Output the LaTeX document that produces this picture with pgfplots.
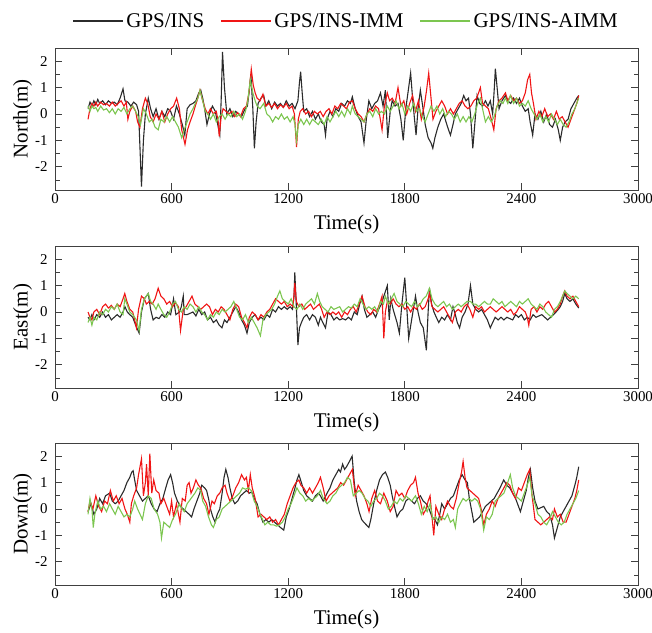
\documentclass[border=0pt]{standalone}
\usepackage{fontspec}
\setmainfont{Liberation Serif}
\usepackage{pgfplots}
\pgfplotsset{compat=1.18}
\definecolor{cblack}{HTML}{2B2B2B}
\definecolor{cred}{HTML}{F01515}
\definecolor{cgreen}{HTML}{7CC650}
\pgfplotsset{
 panel/.style={scale only axis, width=583bp, height=142bp,
  xmin=0, xmax=3000, ymin=-2.88, ymax=2.5,
  xtick={0,600,...,3000}, ytick={-2,-1,0,1,2},
  minor ytick={-2.5,-1.5,-0.5,0.5,1.5},
  tick align=inside, major tick length=7bp, minor tick length=4.5bp,
  tick style={color=black!75, line width=0.8bp},
  axis line style={black!75, line width=1bp},
  ticklabel style={font=\fontsize{15}{15}\selectfont},
  /pgf/number format/assume math mode=true,
  /pgf/number format/1000 sep={},
  label style={font=\fontsize{21}{21}\selectfont},
  xlabel={Time(s)},
  xlabel style={yshift=-5bp},
  ylabel style={yshift=-4bp},
  yticklabel style={xshift=-4bp},
  every axis plot/.append style={line width=1.1bp},
 }
}
\begin{document}
\begin{tikzpicture}
\useasboundingbox (0,0) rectangle (652bp,-633bp);
% ---------------- North ----------------
\begin{axis}[panel, at={(55bp,-48bp)}, anchor=north west, ylabel={North(m)},
  legend columns=3,
  legend image code/.code={\draw[#1] (0bp,0bp) -- (50bp,0bp);},
  legend style={at={(0.5,1)}, anchor=center, yshift=27bp, draw=none, fill=none,
   font=\fontsize{21}{21}\selectfont, nodes={inner sep=2.5bp},
   /tikz/every even column/.append style={column sep=14bp}}]
\addplot[cblack] coordinates {(170,0.2)(180,0.45)(190,0.3)(200,0.5)(210,0.35)(220,0.55)(230,0.4)(245,0.5)(260,0.35)(275,0.5)(290,0.4)(305,0.45)(320,0.35)(335,0.6)(350,0.95)(360,0.5)(375,0.45)(390,0.3)(405,0.45)(420,0.35)(430,0.1)(445,-2.75)(455,-1.0)(465,0.0)(480,0.6)(492,0.2)(505,-0.1)(520,0.2)(535,-0.2)(550,0.1)(565,-0.1)(580,0.2)(595,0.1)(610,-0.2)(625,0.3)(640,0.0)(655,-0.4)(668,-0.8)(680,0.2)(695,0.35)(710,0.4)(725,0.5)(740,0.8)(750,0.9)(760,0.6)(770,0.2)(782,-0.4)(795,0.0)(810,0.3)(825,0.1)(840,-0.5)(848,-0.8)(855,0.5)(862,2.35)(872,1.0)(884,0.0)(900,0.2)(915,-0.1)(930,0.1)(945,0.0)(960,-0.1)(975,0.15)(990,0.3)(1000,0.9)(1008,1.5)(1018,0.2)(1026,-1.3)(1035,-0.3)(1045,0.4)(1060,0.6)(1074,0.7)(1085,0.3)(1100,0.5)(1115,0.2)(1130,0.45)(1145,0.3)(1160,0.4)(1175,0.25)(1190,0.5)(1205,0.3)(1220,0.4)(1235,0.2)(1250,0.5)(1258,1.2)(1264,1.6)(1272,0.8)(1280,0.1)(1295,0.2)(1310,-0.1)(1325,0.1)(1340,-0.2)(1355,0.0)(1370,-0.3)(1385,-0.4)(1392,-0.8)(1400,-0.2)(1415,0.1)(1430,-0.1)(1445,0.2)(1460,0.1)(1475,0.4)(1490,0.3)(1505,0.5)(1520,0.4)(1530,0.65)(1545,0.2)(1560,-0.1)(1575,-0.3)(1590,-1.1)(1602,-0.2)(1615,0.5)(1630,0.2)(1645,0.4)(1660,0.5)(1675,0.8)(1688,0.3)(1700,0.9)(1712,-0.9)(1725,0.1)(1735,0.5)(1750,0.3)(1765,0.4)(1780,-0.2)(1792,-1.0)(1805,0.2)(1818,0.9)(1830,1.55)(1840,0.6)(1850,-0.2)(1858,-0.8)(1868,0.2)(1880,0.9)(1892,0.3)(1905,-0.4)(1920,-0.9)(1935,-1.1)(1944,-1.3)(1955,-0.9)(1970,-0.5)(1985,-0.2)(2000,0.0)(2012,-0.3)(2025,-0.6)(2035,-0.8)(2048,-0.4)(2060,0.0)(2075,0.2)(2090,0.4)(2103,0.7)(2115,0.5)(2128,0.6)(2138,0.0)(2150,-1.3)(2160,-0.4)(2172,0.7)(2185,0.4)(2200,0.3)(2215,0.5)(2228,0.3)(2240,0.5)(2252,0.0)(2260,0.9)(2266,1.72)(2275,1.0)(2285,0.2)(2300,0.5)(2318,0.7)(2330,0.5)(2345,0.4)(2360,0.6)(2375,0.4)(2390,0.6)(2405,0.3)(2420,0.1)(2435,0.2)(2445,-0.3)(2458,-0.8)(2470,0.0)(2485,-0.2)(2500,0.1)(2515,-0.3)(2530,0.0)(2545,-0.4)(2560,-0.5)(2575,-0.2)(2590,-0.6)(2600,-1.0)(2612,-0.5)(2625,-0.3)(2640,-0.2)(2655,0.2)(2670,0.4)(2685,0.6)(2695,0.7)};
\addlegendentry{GPS/INS}
\addplot[cred] coordinates {(170,-0.2)(180,0.2)(190,0.4)(200,0.3)(210,0.45)(220,0.3)(235,0.45)(250,0.35)(265,0.4)(280,0.3)(295,0.45)(310,0.3)(325,0.4)(340,0.5)(355,0.3)(367,0.45)(375,-0.2)(385,0.1)(400,0.3)(415,0.1)(425,-0.3)(437,-0.5)(450,0.2)(465,0.6)(477,0.4)(490,-0.1)(505,-0.3)(520,0.0)(535,-0.2)(550,0.1)(565,-0.3)(580,0.0)(595,0.2)(610,0.3)(626,0.6)(640,0.2)(652,-0.6)(669,-1.15)(682,-0.6)(695,-0.3)(710,0.0)(722,0.3)(735,0.6)(746,0.9)(760,0.5)(773,0.2)(786,0.0)(800,0.2)(815,0.0)(830,0.1)(840,-0.3)(845,-0.85)(855,-0.1)(865,0.2)(880,0.1)(895,0.0)(910,0.1)(925,-0.1)(940,0.05)(955,-0.1)(970,0.2)(985,0.3)(998,0.8)(1010,1.7)(1020,1.1)(1030,0.8)(1040,0.6)(1055,0.5)(1070,0.75)(1085,0.3)(1100,0.4)(1115,0.25)(1130,0.4)(1145,0.2)(1160,0.35)(1175,0.25)(1190,0.4)(1205,0.2)(1220,0.3)(1232,0.0)(1243,-1.25)(1252,-0.2)(1262,0.1)(1275,0.2)(1290,0.0)(1305,0.1)(1320,-0.1)(1335,0.1)(1350,0.0)(1365,0.1)(1380,-0.1)(1395,0.1)(1410,0.2)(1425,0.0)(1440,0.3)(1455,0.2)(1470,0.4)(1485,0.3)(1500,0.2)(1515,0.45)(1530,0.5)(1545,0.2)(1560,0.0)(1575,-0.1)(1590,-0.3)(1605,0.0)(1620,0.2)(1635,0.1)(1650,0.3)(1665,0.2)(1683,-0.6)(1695,0.3)(1710,0.8)(1722,0.5)(1735,0.6)(1750,0.4)(1765,1.0)(1780,0.3)(1795,0.5)(1810,0.0)(1825,0.4)(1840,0.7)(1855,0.1)(1870,0.5)(1885,-0.2)(1900,0.3)(1912,0.9)(1923,1.55)(1935,0.6)(1945,-0.2)(1960,0.1)(1975,0.3)(1990,0.5)(2005,0.3)(2020,0.0)(2035,0.2)(2050,0.0)(2065,0.2)(2080,0.4)(2095,0.5)(2110,0.3)(2125,0.2)(2140,0.3)(2155,0.5)(2170,0.6)(2189,1.0)(2200,0.4)(2215,0.3)(2230,0.2)(2245,-0.2)(2258,-0.6)(2270,0.2)(2285,0.5)(2300,0.6)(2318,0.8)(2330,0.5)(2345,0.7)(2360,0.5)(2375,0.6)(2390,0.4)(2405,0.5)(2420,0.8)(2432,1.3)(2443,1.5)(2452,0.8)(2462,0.4)(2475,-0.2)(2490,0.1)(2505,-0.1)(2520,0.2)(2535,-0.1)(2550,0.0)(2565,-0.2)(2580,0.1)(2595,-0.2)(2610,-0.1)(2625,-0.3)(2640,-0.5)(2655,-0.2)(2670,0.1)(2685,0.4)(2695,0.7)};
\addlegendentry{GPS/INS-IMM}
\addplot[cgreen] coordinates {(170,0.3)(180,0.1)(190,0.3)(200,0.2)(210,0.25)(220,0.1)(235,0.3)(250,0.15)(265,0.2)(280,0.05)(295,0.2)(310,0.0)(325,0.2)(340,0.1)(355,0.25)(370,0.0)(385,0.2)(400,0.3)(415,0.1)(428,-0.1)(440,-0.4)(455,0.2)(470,0.0)(485,-0.3)(500,-0.2)(515,-0.5)(531,-0.6)(545,-0.2)(560,-0.3)(575,-0.1)(590,-0.3)(605,-0.1)(620,-0.3)(635,-0.5)(652,-0.9)(665,-0.6)(680,-0.3)(695,0.0)(710,0.2)(722,0.4)(735,0.6)(746,0.9)(760,0.5)(773,0.1)(786,0.0)(800,-0.2)(815,0.0)(830,-0.3)(845,-0.1)(860,0.0)(875,-0.2)(890,0.0)(905,-0.1)(920,0.1)(935,-0.1)(950,0.0)(965,-0.2)(980,0.1)(992,0.5)(1005,1.3)(1018,0.8)(1030,0.5)(1040,0.3)(1055,0.2)(1074,0.4)(1090,0.0)(1105,-0.1)(1120,-0.3)(1135,-0.1)(1150,-0.2)(1165,0.0)(1180,-0.2)(1195,-0.1)(1210,-0.3)(1225,-0.1)(1235,-0.4)(1243,-1.0)(1252,-0.4)(1265,-0.2)(1280,-0.4)(1295,-0.2)(1310,-0.4)(1325,-0.2)(1340,-0.3)(1355,-0.4)(1370,-0.2)(1385,-0.4)(1400,-0.1)(1415,-0.3)(1430,-0.1)(1445,0.1)(1460,-0.1)(1475,0.1)(1490,-0.1)(1505,0.2)(1520,0.0)(1530,0.3)(1545,0.0)(1560,-0.1)(1575,-0.2)(1590,-0.3)(1605,0.0)(1620,0.1)(1635,-0.1)(1650,0.2)(1665,0.0)(1680,0.1)(1695,0.0)(1710,0.3)(1725,0.1)(1740,0.3)(1755,0.5)(1770,0.2)(1785,0.4)(1800,0.0)(1815,0.3)(1830,0.1)(1845,0.4)(1860,0.1)(1875,0.2)(1890,-0.1)(1905,-0.3)(1920,0.0)(1935,0.3)(1950,0.1)(1965,0.3)(1980,0.0)(1995,0.2)(2010,-0.1)(2025,0.1)(2040,0.0)(2055,-0.2)(2070,0.0)(2085,-0.3)(2100,-0.1)(2115,-0.3)(2130,-0.1)(2145,-0.3)(2160,0.0)(2175,0.4)(2189,0.6)(2200,0.2)(2215,-0.3)(2230,-0.1)(2245,-0.3)(2260,-0.1)(2275,0.3)(2290,0.5)(2305,0.4)(2318,0.6)(2330,0.4)(2343,0.7)(2360,0.4)(2375,0.6)(2390,0.3)(2405,0.4)(2420,0.3)(2435,0.5)(2450,0.2)(2465,0.0)(2480,-0.2)(2495,0.0)(2510,-0.3)(2525,-0.1)(2540,-0.3)(2555,0.0)(2570,-0.2)(2585,-0.4)(2600,-0.2)(2615,-0.4)(2630,-0.5)(2645,-0.3)(2660,0.0)(2675,0.2)(2685,0.4)(2695,0.6)};
\addlegendentry{GPS/INS-AIMM}
\end{axis}
% ---------------- East ----------------
\begin{axis}[panel, at={(55bp,-246bp)}, anchor=north west, ylabel={East(m)}]
\addplot[cblack] coordinates {(170,-0.2)(180,-0.3)(190,-0.1)(200,-0.3)(215,-0.1)(230,-0.2)(245,0.0)(260,-0.2)(275,-0.1)(290,-0.3)(305,-0.2)(320,-0.1)(335,-0.2)(350,0.0)(360,0.2)(372,0.0)(385,-0.1)(400,-0.2)(415,-0.5)(433,-0.8)(445,0.0)(460,0.5)(480,0.7)(492,0.1)(505,-0.3)(520,-0.2)(535,-0.25)(550,-0.1)(565,-0.2)(580,0.0)(595,-0.1)(610,0.5)(622,-0.1)(640,0.0)(650,0.2)(660,0.6)(665,-0.1)(680,-0.1)(695,-0.05)(710,0.0)(725,-0.15)(740,0.1)(755,-0.1)(770,0.0)(785,-0.3)(800,-0.2)(815,-0.4)(830,-0.3)(845,-0.5)(859,-0.6)(872,-0.3)(885,-0.4)(900,-0.2)(915,0.0)(930,0.2)(945,0.0)(960,-0.3)(975,-0.5)(988,-0.8)(1000,-0.4)(1015,-0.2)(1030,-0.1)(1045,-0.3)(1060,-0.2)(1075,-0.3)(1090,-0.1)(1105,-0.2)(1120,0.1)(1135,0.0)(1150,0.2)(1165,0.1)(1180,0.2)(1195,0.1)(1210,0.2)(1222,0.1)(1230,0.6)(1234,1.5)(1242,0.2)(1250,-1.25)(1258,-0.6)(1268,-0.4)(1280,-0.2)(1295,-0.1)(1310,-0.3)(1325,-0.1)(1340,-0.2)(1355,-0.5)(1366,-0.2)(1378,-0.4)(1392,-0.6)(1405,0.0)(1420,-0.1)(1435,-0.3)(1450,-0.2)(1465,-0.3)(1480,-0.25)(1495,-0.3)(1510,-0.2)(1525,-0.3)(1540,0.0)(1555,-0.1)(1568,0.3)(1580,0.6)(1592,0.1)(1605,-0.2)(1620,-0.1)(1635,0.0)(1650,-0.2)(1665,0.1)(1680,0.3)(1692,0.6)(1710,1.0)(1720,-0.3)(1728,0.5)(1740,0.1)(1760,-0.4)(1772,-0.8)(1785,0.3)(1800,1.3)(1810,0.2)(1820,-1.0)(1835,-0.3)(1855,0.6)(1868,0.0)(1880,-0.4)(1895,-0.6)(1911,-1.45)(1920,0.0)(1927,0.9)(1938,0.3)(1950,0.0)(1962,-0.2)(1975,-0.4)(1990,-0.2)(2005,-0.3)(2020,-0.1)(2035,-0.3)(2048,0.2)(2060,-0.1)(2070,-0.4)(2082,-0.6)(2095,-0.2)(2110,0.0)(2125,0.3)(2138,1.0)(2150,0.3)(2165,0.1)(2180,0.0)(2195,0.1)(2210,-0.1)(2225,-0.3)(2240,-0.6)(2252,-0.4)(2265,-0.2)(2280,-0.3)(2295,-0.2)(2310,-0.3)(2325,-0.2)(2340,-0.25)(2355,-0.3)(2370,-0.1)(2385,-0.2)(2400,-0.1)(2415,-0.3)(2430,-0.2)(2445,-0.3)(2460,-0.1)(2475,-0.2)(2490,-0.15)(2505,-0.1)(2520,-0.2)(2535,-0.3)(2550,-0.2)(2565,-0.1)(2578,0.0)(2590,0.1)(2600,0.2)(2612,0.4)(2623,0.7)(2635,0.5)(2650,0.4)(2665,0.5)(2680,0.3)(2695,0.15)};
\addplot[cred] coordinates {(170,0.0)(180,-0.2)(190,-0.3)(200,0.0)(215,0.1)(230,-0.1)(245,0.2)(260,0.3)(275,0.15)(290,0.25)(305,0.1)(320,0.3)(335,0.2)(350,0.5)(359,0.7)(370,0.4)(385,0.1)(400,0.0)(410,-0.3)(419,-0.6)(430,0.1)(445,0.6)(460,0.5)(470,0.3)(485,0.4)(500,0.3)(515,0.5)(531,0.9)(545,0.6)(560,0.5)(575,0.3)(590,0.4)(605,0.2)(620,0.35)(635,0.2)(646,-0.7)(660,0.1)(675,0.2)(690,0.4)(705,0.6)(720,0.3)(735,0.2)(750,0.1)(765,0.2)(780,0.3)(795,0.2)(810,-0.1)(825,0.1)(840,0.0)(855,0.2)(870,0.1)(885,-0.1)(900,-0.3)(915,0.1)(930,0.3)(945,0.2)(960,-0.2)(975,-0.4)(988,-0.6)(1000,-0.2)(1015,0.0)(1030,-0.1)(1045,-0.3)(1060,-0.1)(1075,-0.2)(1090,0.0)(1105,0.1)(1120,0.3)(1135,0.5)(1150,0.4)(1165,0.3)(1180,0.4)(1195,0.2)(1210,0.3)(1225,0.2)(1234,1.1)(1242,0.4)(1255,0.2)(1270,0.3)(1285,0.1)(1300,0.2)(1315,0.3)(1330,0.1)(1345,0.2)(1360,0.3)(1372,0.1)(1385,-0.2)(1400,0.0)(1415,-0.1)(1430,0.0)(1445,-0.1)(1460,0.0)(1475,-0.2)(1490,0.0)(1505,-0.1)(1520,0.1)(1535,0.2)(1550,0.0)(1565,0.3)(1580,0.6)(1595,0.2)(1610,0.0)(1625,-0.1)(1640,0.1)(1655,0.0)(1670,0.3)(1683,0.6)(1692,-1.0)(1700,0.0)(1710,0.4)(1725,0.3)(1740,0.5)(1755,0.3)(1770,0.2)(1785,0.3)(1800,0.1)(1815,0.2)(1830,0.0)(1845,0.2)(1860,0.1)(1875,0.3)(1890,0.1)(1905,0.2)(1920,0.5)(1927,0.7)(1940,0.2)(1955,0.1)(1970,0.0)(1985,0.1)(2000,0.2)(2015,0.0)(2030,-0.2)(2045,-0.4)(2060,0.0)(2075,0.1)(2090,0.0)(2105,0.2)(2120,0.3)(2135,0.1)(2150,-0.2)(2165,0.2)(2180,0.1)(2195,0.2)(2210,0.0)(2225,0.1)(2240,0.2)(2255,0.1)(2270,0.0)(2285,0.1)(2300,0.2)(2315,0.1)(2330,0.0)(2345,0.1)(2360,-0.1)(2375,0.0)(2390,0.2)(2405,0.1)(2420,0.0)(2430,-0.2)(2438,-0.5)(2450,0.1)(2465,0.2)(2480,0.0)(2495,0.2)(2510,0.1)(2525,0.3)(2540,0.4)(2555,0.2)(2570,0.0)(2585,0.1)(2600,0.3)(2612,0.6)(2623,0.8)(2635,0.6)(2650,0.5)(2665,0.6)(2680,0.4)(2695,0.2)};
\addplot[cgreen] coordinates {(170,-0.4)(180,-0.2)(190,-0.5)(200,-0.2)(215,-0.3)(230,0.0)(245,-0.1)(260,0.1)(275,0.0)(290,0.2)(305,0.1)(320,0.3)(335,0.0)(350,-0.1)(359,0.5)(370,0.3)(385,0.0)(400,-0.1)(419,-0.3)(433,-0.7)(445,0.1)(460,0.5)(480,0.7)(492,0.4)(505,0.3)(520,0.1)(531,0.3)(545,0.1)(560,-0.1)(575,-0.2)(590,0.0)(605,0.3)(620,0.4)(635,0.1)(650,0.0)(665,0.2)(680,0.1)(695,0.3)(710,0.2)(725,0.0)(740,0.2)(755,0.0)(770,-0.1)(785,-0.3)(800,-0.1)(815,-0.2)(830,0.0)(845,-0.1)(860,0.1)(875,0.0)(890,0.1)(905,0.2)(920,0.4)(935,0.1)(950,-0.2)(965,-0.3)(980,-0.1)(995,-0.4)(1010,-0.2)(1025,-0.4)(1040,-0.6)(1057,-0.9)(1070,-0.3)(1085,-0.1)(1100,0.0)(1115,0.1)(1130,0.3)(1145,0.6)(1157,0.8)(1170,0.5)(1185,0.4)(1200,0.3)(1215,0.5)(1230,0.2)(1245,0.1)(1260,0.3)(1275,0.1)(1290,0.3)(1305,0.4)(1320,0.5)(1335,0.3)(1350,0.7)(1362,0.4)(1375,0.2)(1390,0.1)(1405,0.0)(1420,0.2)(1435,0.1)(1450,0.15)(1465,0.2)(1480,0.0)(1495,0.1)(1510,0.2)(1525,0.15)(1540,0.3)(1555,0.2)(1570,0.5)(1585,0.3)(1600,0.1)(1615,0.2)(1630,0.1)(1645,0.2)(1660,0.0)(1675,0.4)(1690,0.3)(1700,0.6)(1715,0.3)(1730,0.5)(1745,0.7)(1760,0.4)(1775,0.3)(1790,0.2)(1805,0.4)(1820,0.3)(1835,0.2)(1850,0.4)(1865,0.2)(1880,0.3)(1895,0.5)(1910,0.6)(1927,0.9)(1940,0.5)(1955,0.3)(1970,0.2)(1985,0.3)(2000,0.4)(2015,0.2)(2030,0.3)(2045,0.1)(2060,0.2)(2075,0.3)(2090,0.2)(2105,0.3)(2120,0.4)(2138,0.4)(2150,0.3)(2165,0.3)(2180,0.2)(2195,0.3)(2210,0.4)(2225,0.3)(2240,0.3)(2255,0.5)(2270,0.4)(2285,0.3)(2300,0.4)(2315,0.2)(2330,0.3)(2345,0.4)(2360,0.3)(2375,0.2)(2390,0.4)(2405,0.3)(2420,0.4)(2435,0.5)(2450,0.3)(2465,0.2)(2480,0.1)(2495,0.3)(2510,0.2)(2525,0.0)(2540,-0.1)(2555,-0.2)(2570,0.1)(2585,0.2)(2600,0.4)(2612,0.6)(2623,0.8)(2635,0.7)(2650,0.6)(2665,0.5)(2680,0.6)(2695,0.5)};
\end{axis}
% ---------------- Down ----------------
\begin{axis}[panel, at={(55bp,-443bp)}, anchor=north west, ylabel={Down(m)}]
\addplot[cblack] coordinates {(170,-0.1)(185,0.2)(200,-0.2)(215,0.0)(230,0.4)(245,0.2)(260,0.5)(281,0.6)(295,0.3)(310,0.2)(325,0.3)(340,0.5)(355,0.7)(370,1.0)(385,1.2)(395,1.4)(402,1.45)(410,1.1)(420,0.7)(435,0.5)(450,0.3)(465,0.4)(480,0.5)(495,0.2)(510,0.0)(525,-0.1)(540,0.2)(555,0.4)(570,0.8)(582,1.1)(595,1.3)(605,1.0)(615,0.6)(630,0.3)(645,0.1)(660,0.0)(675,-0.1)(690,-0.2)(703,-0.3)(715,0.0)(730,0.3)(745,0.6)(755,0.9)(770,0.8)(780,0.7)(790,0.4)(800,0.0)(812,-0.3)(824,-0.5)(835,-0.2)(848,0.0)(860,0.6)(870,1.2)(879,1.5)(890,1.2)(900,0.8)(912,0.4)(925,0.2)(940,0.3)(955,0.5)(970,0.6)(985,0.7)(1000,0.6)(1012,0.65)(1025,0.4)(1040,0.2)(1055,-0.2)(1070,-0.5)(1085,-0.4)(1100,-0.5)(1115,-0.4)(1130,-0.5)(1145,-0.6)(1160,-0.7)(1177,-0.8)(1190,-0.3)(1205,0.0)(1220,0.4)(1235,0.8)(1245,1.1)(1255,1.3)(1268,1.0)(1280,0.7)(1295,0.5)(1310,0.4)(1325,0.3)(1340,0.5)(1355,0.6)(1366,0.5)(1380,0.3)(1400,0.6)(1415,0.8)(1430,1.1)(1445,1.3)(1460,1.5)(1469,1.4)(1480,1.7)(1490,1.5)(1500,1.6)(1515,1.8)(1529,2.0)(1540,1.0)(1552,0.3)(1565,-0.1)(1578,-0.4)(1589,-0.5)(1602,-0.6)(1615,-0.7)(1625,-0.4)(1640,0.2)(1655,0.7)(1670,1.1)(1685,1.3)(1700,1.4)(1712,1.2)(1725,0.9)(1735,0.5)(1750,0.0)(1760,-0.3)(1775,-0.1)(1790,0.0)(1805,0.3)(1820,0.4)(1835,0.3)(1850,0.2)(1865,0.4)(1880,0.5)(1895,0.3)(1910,0.2)(1925,0.0)(1940,-0.3)(1955,-0.4)(1968,-0.6)(1980,-0.2)(1990,0.2)(2005,0.0)(2020,0.2)(2035,0.4)(2050,0.5)(2065,0.8)(2080,1.1)(2095,1.3)(2110,1.1)(2122,1.0)(2132,0.4)(2145,-0.1)(2155,-0.5)(2170,-0.4)(2185,-0.3)(2200,-0.1)(2215,0.1)(2230,0.2)(2245,0.3)(2260,0.4)(2275,0.6)(2290,0.8)(2309,1.1)(2325,0.9)(2340,0.8)(2355,0.6)(2370,0.4)(2385,0.1)(2395,-0.1)(2410,0.3)(2425,0.7)(2436,1.2)(2446,1.5)(2458,0.8)(2470,0.3)(2485,0.0)(2500,0.05)(2515,0.1)(2530,-0.1)(2545,-0.2)(2560,-0.6)(2570,-1.1)(2585,-0.7)(2600,-0.3)(2615,-0.1)(2630,0.1)(2645,0.3)(2660,0.5)(2675,0.9)(2685,1.2)(2695,1.6)};
\addplot[cred] coordinates {(170,-0.1)(180,0.3)(195,0.0)(210,0.5)(225,0.1)(240,-0.1)(255,0.3)(270,0.2)(285,0.7)(300,0.3)(315,0.5)(330,0.2)(345,0.4)(360,0.0)(372,-0.2)(385,-0.5)(393,0.2)(405,0.5)(420,0.8)(430,1.3)(445,1.9)(455,0.5)(465,1.0)(471,1.7)(480,0.5)(488,2.1)(498,0.6)(508,1.1)(520,0.7)(535,0.6)(545,0.2)(560,0.4)(575,0.1)(590,-0.2)(600,0.3)(610,-0.3)(625,0.2)(643,-0.5)(655,0.4)(670,0.3)(680,0.9)(690,1.0)(700,0.6)(712,0.8)(725,1.1)(738,0.9)(750,0.8)(765,0.4)(780,0.2)(792,-0.2)(808,0.3)(820,0.2)(835,0.5)(848,0.6)(860,0.8)(875,0.9)(885,0.6)(900,0.3)(915,0.5)(930,0.8)(945,1.0)(960,1.3)(975,1.1)(985,1.2)(995,0.7)(1005,1.3)(1015,0.8)(1030,0.4)(1045,-0.3)(1060,-0.2)(1075,-0.3)(1090,-0.4)(1105,-0.3)(1120,-0.5)(1135,-0.4)(1150,-0.6)(1165,-0.4)(1180,-0.2)(1195,0.2)(1210,0.5)(1225,0.8)(1240,1.0)(1255,1.1)(1265,0.9)(1280,0.8)(1295,0.6)(1310,0.8)(1325,0.6)(1340,0.8)(1355,1.0)(1366,1.2)(1380,0.8)(1395,0.3)(1410,0.5)(1425,0.6)(1440,0.7)(1455,0.8)(1470,1.0)(1485,0.9)(1500,1.1)(1515,1.3)(1530,1.5)(1545,0.5)(1560,0.9)(1575,0.7)(1590,0.5)(1605,0.2)(1616,-0.1)(1630,0.4)(1645,0.7)(1660,0.3)(1675,0.2)(1692,0.6)(1710,0.3)(1725,-0.1)(1740,0.1)(1755,0.7)(1770,0.5)(1785,0.6)(1800,0.4)(1815,0.7)(1830,0.9)(1845,1.0)(1855,1.2)(1868,0.6)(1880,0.3)(1895,-0.2)(1910,0.0)(1920,0.3)(1930,0.5)(1940,-0.3)(1949,-1.0)(1960,0.1)(1975,-0.2)(1990,-0.4)(2005,0.0)(2020,0.3)(2035,0.1)(2050,0.0)(2065,0.4)(2080,1.0)(2092,1.4)(2100,1.8)(2110,1.2)(2120,0.8)(2135,0.7)(2150,0.6)(2165,0.5)(2180,0.4)(2193,0.0)(2206,-0.6)(2220,-0.2)(2235,0.0)(2250,0.3)(2265,0.1)(2280,0.4)(2295,0.6)(2310,0.8)(2325,1.0)(2340,0.9)(2355,0.6)(2370,0.4)(2385,0.8)(2400,0.7)(2415,1.0)(2430,1.3)(2443,1.5)(2455,0.5)(2470,-0.4)(2485,-0.5)(2500,-0.6)(2515,-0.5)(2530,-0.4)(2545,-0.3)(2560,-0.4)(2570,0.0)(2585,-0.3)(2600,-0.2)(2615,-0.5)(2630,-0.5)(2645,-0.2)(2660,0.1)(2675,0.4)(2685,0.7)(2695,1.1)};
\addplot[cgreen] coordinates {(170,-0.2)(180,0.4)(190,0.0)(197,-0.7)(205,-0.2)(220,0.3)(235,0.0)(250,0.1)(265,-0.1)(281,0.2)(295,0.0)(310,-0.2)(325,0.1)(340,-0.1)(355,-0.3)(370,-0.2)(385,-0.3)(400,0.0)(410,0.3)(425,0.0)(450,-0.4)(465,0.2)(480,0.5)(495,0.4)(510,0.0)(528,-0.2)(540,-0.5)(548,-1.1)(560,-0.5)(575,-0.6)(590,-0.7)(605,-0.4)(620,-0.2)(640,0.2)(655,0.0)(665,-0.1)(680,0.2)(700,0.4)(720,0.6)(735,0.8)(750,0.7)(760,0.3)(775,0.1)(790,-0.3)(805,-0.6)(815,-0.7)(830,-0.4)(845,-0.3)(860,0.0)(875,0.1)(890,0.2)(905,0.3)(920,0.4)(935,0.5)(950,0.6)(965,0.8)(980,0.75)(995,0.8)(1010,0.7)(1025,0.3)(1040,0.1)(1055,-0.2)(1068,-0.4)(1080,-0.6)(1095,-0.5)(1110,-0.6)(1125,-0.6)(1140,-0.65)(1155,-0.6)(1170,-0.5)(1185,-0.3)(1200,0.0)(1215,0.2)(1230,0.5)(1245,0.8)(1260,0.6)(1275,0.5)(1290,0.3)(1305,0.4)(1320,0.3)(1335,0.4)(1350,0.5)(1366,0.7)(1380,0.4)(1400,0.2)(1415,0.3)(1430,0.5)(1445,0.6)(1460,0.8)(1475,0.9)(1490,1.0)(1505,1.2)(1520,1.1)(1535,0.5)(1550,0.6)(1565,0.7)(1580,0.6)(1595,0.4)(1610,0.3)(1625,0.1)(1640,0.3)(1655,0.4)(1670,0.6)(1685,0.5)(1700,0.3)(1715,0.0)(1730,0.1)(1745,0.3)(1760,0.2)(1775,0.4)(1790,0.3)(1805,0.5)(1820,0.4)(1835,0.3)(1855,0.5)(1870,0.2)(1885,-0.2)(1900,0.1)(1915,-0.1)(1930,0.2)(1945,-0.4)(1960,-0.3)(1975,-0.5)(1990,-0.3)(2005,-0.4)(2020,-0.2)(2035,-0.5)(2050,-0.4)(2060,-0.7)(2072,0.0)(2085,0.2)(2100,0.4)(2115,0.3)(2130,0.4)(2145,0.3)(2160,0.4)(2175,0.3)(2190,0.0)(2206,-0.8)(2220,-0.3)(2235,-0.4)(2250,-0.2)(2265,0.3)(2280,0.4)(2295,0.5)(2310,0.6)(2325,0.9)(2343,1.3)(2355,0.8)(2370,0.5)(2385,0.4)(2400,0.3)(2415,0.6)(2430,0.9)(2443,1.2)(2455,0.5)(2470,0.2)(2485,-0.2)(2500,-0.3)(2515,-0.5)(2530,-0.6)(2545,-0.4)(2560,-0.1)(2575,-0.3)(2590,-0.5)(2605,-0.6)(2620,-0.5)(2635,-0.2)(2650,0.0)(2665,0.2)(2680,0.4)(2695,0.7)};
\end{axis}
\end{tikzpicture}
\end{document}
